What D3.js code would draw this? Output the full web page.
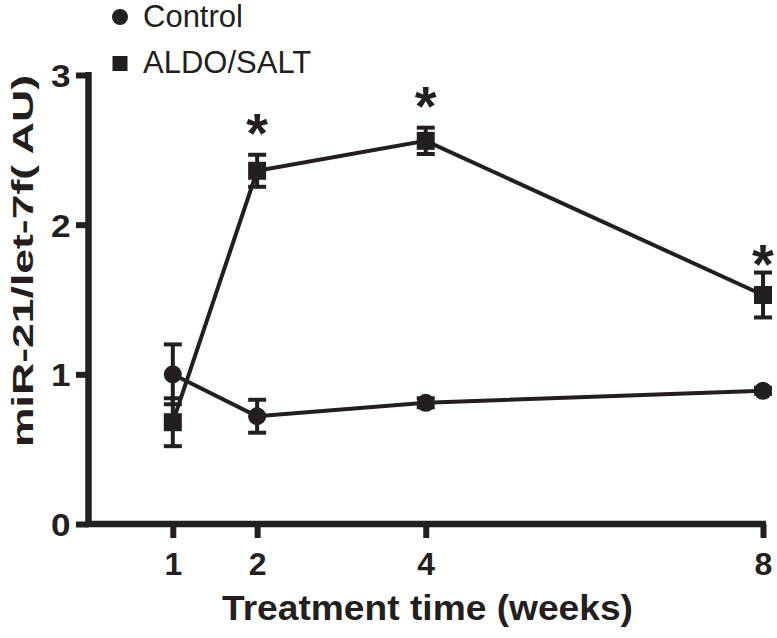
<!DOCTYPE html>
<html>
<head>
<meta charset="utf-8">
<script src="https://cdn.jsdelivr.net/npm/d3@7"></script>
<style>
  html, body { margin: 0; padding: 0; background: #fff; }
  svg { display: block; }
</style>
</head>
<body>
<svg id="chart" width="777" height="638"></svg>
<script>
// ---- data ----
const weeks = [1, 2, 4, 8];
const controlMean = [1.00, 0.72, 0.81, 0.89];
const controlErr  = [0.20, 0.11, 0.03, 0.02];
const aldoMean = [0.68, 2.36, 2.56, 1.53];
const aldoErr  = [0.16, 0.107, 0.088, 0.15];
const sigWeeks = [2, 4, 8];
const sigLevel = [2.69, 2.87, 1.82];
const xTicks = [1, 2, 4, 8];
const yTicks = [0, 1, 2, 3];
const seriesNames = ["Control", "ALDO/SALT"];
const xTitle = "Treatment time (weeks)";
const yTitle = "miR-21/let-7f( AU)";

const ink = "#231f20";
const font = "'Liberation Sans', Arial, sans-serif";
const svg = d3.select("#chart");

const x = d3.scaleLinear().domain([0, 8]).range([88.5, 763]);
const y = d3.scaleLinear().domain([0, 3]).range([524, 75]);

// axes
const xAxis = svg.append("g").attr("transform", `translate(0,${y(0)})`)
  .call(d3.axisBottom(x).tickValues(xTicks).tickFormat(d3.format("d"))
    .tickSize(14).tickSizeOuter(0).tickPadding(14));
const yAxis = svg.append("g").attr("transform", `translate(${x(0)},0)`)
  .call(d3.axisLeft(y).tickValues(yTicks).tickFormat(d3.format("d"))
    .tickSize(12.5).tickSizeOuter(0).tickPadding(5.5));

[xAxis, yAxis].forEach(g => {
  g.attr("font-size", null).attr("font-family", null);
  g.select(".domain").attr("stroke", ink).attr("stroke-width", 6.5);
  g.selectAll(".tick line").attr("stroke", ink).attr("stroke-width", 6);
  g.selectAll(".tick text")
    .attr("fill", ink)
    .style("font-family", font)
    .style("font-weight", "bold")
    .style("font-size", "32px");
});
xAxis.select(".domain").attr("d", `M${x(0) - 3},0H${x(8) + 3}`);
yAxis.select(".domain").attr("d", `M0,${y(3) - 3}V${y(0) + 3}`);
yAxis.selectAll(".tick text").attr("dy", "0.36em")
  .attr("transform", "translate(-18,0) scale(1.1,1) translate(18,0)");

// error bars + lines + markers
function drawSeries(means, errs, shape) {
  const g = svg.append("g");
  const pts = weeks.map((w, i) => ({ w, m: means[i], e: errs[i] }));
  const line = d3.line().x(d => x(d.w)).y(d => y(d.m));
  g.append("path").datum(pts).attr("d", line)
    .attr("fill", "none").attr("stroke", ink).attr("stroke-width", 4);
  const eb = g.selectAll(".eb").data(pts).join("g");
  eb.append("line").attr("x1", d => x(d.w)).attr("x2", d => x(d.w))
    .attr("y1", d => y(d.m + d.e)).attr("y2", d => y(d.m - d.e))
    .attr("stroke", ink).attr("stroke-width", 4);
  [1, -1].forEach(s => {
    eb.append("line").attr("x1", d => x(d.w) - 9).attr("x2", d => x(d.w) + 9)
      .attr("y1", d => y(d.m + s * d.e)).attr("y2", d => y(d.m + s * d.e))
      .attr("stroke", ink).attr("stroke-width", 4);
  });
  if (shape === "circle") {
    g.selectAll(".mk").data(pts).join("circle")
      .attr("cx", d => x(d.w)).attr("cy", d => y(d.m)).attr("r", 9).attr("fill", ink);
  } else {
    g.selectAll(".mk").data(pts).join("rect")
      .attr("x", d => x(d.w) - 9).attr("y", d => y(d.m) - 9)
      .attr("width", 18).attr("height", 18).attr("fill", ink);
  }
}
drawSeries(controlMean, controlErr, "circle");
drawSeries(aldoMean, aldoErr, "square");

// significance asterisks
svg.selectAll(".sig").data(sigWeeks.map((w, i) => ({ w, v: sigLevel[i] }))).join("text")
  .attr("x", d => x(d.w)).attr("y", d => y(d.v) + 31)
  .attr("text-anchor", "middle")
  .style("font-family", font)
  .style("font-weight", "bold").style("font-size", "56px").attr("fill", ink)
  .text("*");

// axis titles
svg.append("text")
  .attr("x", 427.5).attr("y", 620)
  .attr("text-anchor", "middle")
  .style("font-family", font)
  .style("font-weight", "bold").style("font-size", "35px").attr("fill", ink)
  .attr("textLength", 411).attr("lengthAdjust", "spacingAndGlyphs")
  .text(xTitle);

svg.append("text")
  .attr("transform", "translate(33,261) rotate(-90)")
  .attr("text-anchor", "middle")
  .style("font-family", font)
  .style("font-weight", "bold").style("font-size", "29px").attr("fill", ink)
  .attr("textLength", 372).attr("lengthAdjust", "spacingAndGlyphs")
  .text(yTitle);

// legend
const legend = svg.append("g");
legend.append("circle").attr("cx", 120).attr("cy", 17).attr("r", 8).attr("fill", ink);
legend.append("rect").attr("x", 112.5).attr("y", 56).attr("width", 15).attr("height", 15).attr("fill", ink);
legend.selectAll(".lt").data(seriesNames).join("text")
  .attr("x", 143).attr("y", (d, i) => i === 0 ? 27 : 73)
  .style("font-family", font)
  .style("font-size", "31px").attr("fill", ink)
  .text(d => d);
</script>
</body>
</html>
